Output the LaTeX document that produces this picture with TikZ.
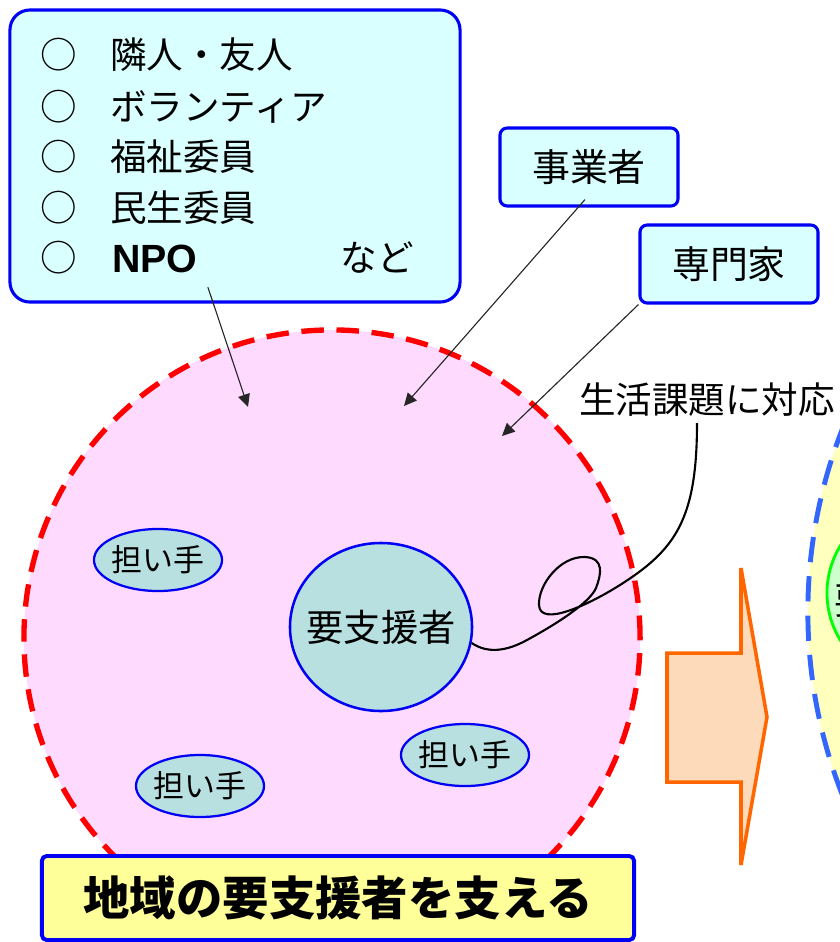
\documentclass[tikz,border=0pt]{standalone}
\usepackage{fontspec}
\setmainfont{Noto Sans CJK JP}
\newfontfamily\npofont{Liberation Sans}
\usepackage{tikz}
\usetikzlibrary{arrows.meta}
\usetikzlibrary{shapes.geometric}

\definecolor{boxcyan}{RGB}{217,255,255}
\definecolor{boxblue}{RGB}{0,0,245}
\definecolor{areapink}{RGB}{255,218,255}
\definecolor{nodeteal}{RGB}{184,224,225}
\definecolor{goalyellow}{RGB}{255,255,153}
\definecolor{arroworange}{RGB}{255,102,0}
\definecolor{arrowpeach}{RGB}{253,218,185}
\definecolor{nextyellow}{RGB}{255,255,190}
\definecolor{nextblue}{RGB}{51,102,255}
\definecolor{nextgreen}{RGB}{204,255,204}

\begin{document}
\begin{tikzpicture}[x=0.025cm,y=-0.025cm,
		list box/.style={draw=boxblue,fill=boxcyan,line width=2.2pt,
			rounded corners=0.5cm,minimum width=11.25cm,minimum height=7.3cm,inner sep=0},
		actor box/.style={draw=boxblue,fill=boxcyan,line width=2.2pt,
			rounded corners=0.18cm,minimum width=4.45cm,minimum height=1.95cm,inner sep=0,
			font=\fontsize{27pt}{30pt}\selectfont},
		list text/.style={anchor=west,inner sep=0,font=\fontsize{26pt}{30pt}\selectfont},
		list mark/.style={inner sep=0,font=\fontsize{26pt}{30pt}\selectfont},
		helper node/.style={ellipse,draw=boxblue,fill=nodeteal,line width=1.6pt,
			minimum width=3.2cm,minimum height=1.55cm,inner xsep=-0.4cm,inner ysep=-0.2cm,
			font=\fontsize{22pt}{26pt}\selectfont},
		link/.style={-{Triangle[length=9pt,width=8.5pt]},line width=0.8pt,black!85}]
	
	\useasboundingbox (0,0) rectangle (840,942);
	\clip (0,0) rectangle (840,942);
	
	% next stage, cut off at the right edge
	\node[circle,draw=nextblue,fill=nextyellow,line width=3.5pt,
		dash pattern=on 18pt off 10pt,minimum size=25cm,inner sep=0] (nextarea) at (1308,612) {};
	\node[circle,draw=green,fill=nextgreen,line width=2pt,minimum size=4.5cm,inner sep=0] (nextcore) at (917,593) {};
	\node[list text,font=\fontsize{26.5pt}{30pt}\selectfont] (nextyo) at (834,600) {要支援者};
	
	% the area round the person
	\node[circle,draw=red,fill=areapink,line width=3.8pt,dash pattern=on 16pt off 9pt,
		minimum size=15.4cm,inner sep=0] (area) at (332,638) {};
	\node[ellipse,draw=boxblue,fill=nodeteal,line width=1.8pt,minimum width=4.55cm,
		minimum height=4.2cm,inner xsep=-1cm,inner ysep=-0.3cm,
		font=\fontsize{26.5pt}{30pt}\selectfont] (yo) at (381,627) {要支援者};
	\node[helper node] (h1) at (158,560) {担い手};
	\node[helper node] (h2) at (200,786) {担い手};
	\node[helper node] (h3) at (465,755) {担い手};
	
	% who helps
	\node[list box] (lst) at (235,156) {};
	\node[list mark] (m1) at (59,55) {○};
	\node[list mark] (m2) at (59,107) {○};
	\node[list mark] (m3) at (59,157) {○};
	\node[list mark] (m4) at (59,208) {○};
	\node[list mark] (m5) at (59,258) {○};
	\node[list text] (r1) at (110,55) {隣人・友人};
	\node[list text] (r2) at (110,107) {ボランティア};
	\node[list text] (r3) at (110,157) {福祉委員};
	\node[list text] (r4) at (110,208) {民生委員};
	\node[list text,font=\npofont\bfseries\fontsize{28pt}{30pt}\selectfont] (npo) at (112,259) {NPO};
	\node[list mark] (nado) at (377,258) {など};
	
	\node[actor box] (jig) at (589,167) {事業者};
	\node[actor box] (sen) at (729,264) {専門家};
	\node[inner sep=0,font=\fontsize{26pt}{30pt}\selectfont] (task) at (707,400) {生活課題に対応};
	
	\coordinate (tip a) at (248,407);
	\coordinate (tip b) at (404,406);
	\coordinate (tip c) at (502,436);
	\draw[link] ([xshift=0.25cm,yshift=-0.35cm]npo.south east) -- (tip a);
	\draw[link] ([xshift=-0.1cm,yshift=0.2cm]jig.south) -- (tip b);
	\draw[link] (sen.south west) -- (tip c);
	
	% the curl from the label to the person
	\draw[line width=1.5pt] ([xshift=-0.25cm,yshift=-0.15cm]task.south)
		.. controls (697,520) and (675,550) .. (620,585)
		.. controls (590,604) and (540,628) .. (539,605)
		.. controls (538,585) and (560,556) .. (585,557)
		.. controls (605,558) and (601,575) .. (596,588)
		.. controls (590,602) and (560,622) .. (527,640)
		.. controls (507,651) and (488,654) .. (yo.-10);
	
	% big arrow to the next stage
	\draw[draw=arroworange,fill=arrowpeach,line width=2.5pt]
		(667,653) -- (741,653) -- (741,568) -- (767,717) -- (741,865) -- (741,782) -- (667,782) -- cycle;
	
	\node[draw=boxblue,fill=goalyellow,line width=2.8pt,rounded corners=0.12cm,
		minimum width=14.8cm,minimum height=2.1cm,inner sep=0,
		font=\bfseries\fontsize{33pt}{36pt}\selectfont] (goal) at (338,898) {地域の要支援者を支える};
\end{tikzpicture}
\end{document}
